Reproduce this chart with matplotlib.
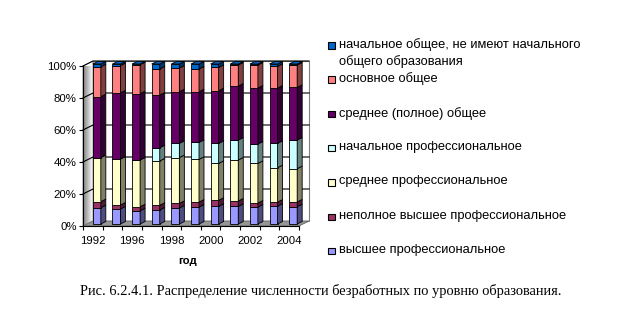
import matplotlib

matplotlib.use("Agg")
import matplotlib.colors as mcolors
import matplotlib.pyplot as plt
import numpy as np
from matplotlib.patches import Polygon, Rectangle

plt.rcParams["font.family"] = ["Liberation Sans", "DejaVu Sans"]

YEARS = ["1992", "1995", "1996", "1997", "1998", "1999", "2000", "2001", "2002", "2003", "2004"]
SHOWN_YEARS = ["1992", "1996", "1998", "2000", "2002", "2004"]

# shares of unemployed by education level, % (bottom of the stack first)
HIGHER_PROF = [10.2, 9.4, 8.3, 8.8, 10.0, 10.6, 11.0, 11.0, 10.6, 11.2, 10.8]
INCOMPLETE_HIGHER = [3.8, 2.5, 2.5, 2.9, 2.9, 3.1, 3.8, 3.4, 2.5, 2.5, 3.0]
SECONDARY_PROF = [27.5, 28.7, 29.2, 27.7, 28.6, 26.7, 23.1, 25.6, 24.8, 21.5, 20.8]
PRIMARY_PROF = [0.0, 0.0, 0.0, 8.3, 8.9, 10.6, 12.5, 12.5, 12.1, 15.2, 17.9]
SECONDARY_GENERAL = [38.1, 41.4, 41.5, 32.9, 32.3, 31.7, 32.9, 33.7, 35.0, 34.6, 32.9]
BASIC_GENERAL = [18.7, 17.0, 18.1, 16.3, 14.8, 14.2, 14.6, 13.2, 14.4, 13.5, 14.0]
PRIMARY_GENERAL = [1.7, 1.0, 0.4, 3.1, 2.5, 3.1, 2.1, 0.6, 0.6, 1.5, 0.6]

SERIES = [
    ("высшее профессиональное", HIGHER_PROF, "#9999FF"),
    ("неполное высшее профессиональное", INCOMPLETE_HIGHER, "#993366"),
    ("среднее профессиональное", SECONDARY_PROF, "#FFFFCC"),
    ("начальное профессиональное", PRIMARY_PROF, "#CCFFFF"),
    ("среднее (полное) общее", SECONDARY_GENERAL, "#660066"),
    ("основное общее", BASIC_GENERAL, "#FF8080"),
    ("начальное общее, не имеют начального\nобщего образования", PRIMARY_GENERAL, "#0066CC"),
]

W, H = 631, 331
fig = plt.figure(figsize=(W / 100, H / 100), dpi=100)
fig.patch.set_facecolor("white")

# front plane of the plot area, in pixels
left, right, bottom, top = 83, 299, 226, 66
ax = fig.add_axes([left / W, 1 - bottom / H, (right - left) / W, (bottom - top) / H])
n = len(YEARS)
ax.set_xlim(-0.5, n - 0.5)
ax.set_ylim(0, 100)
ax.set_facecolor("none")

ux = (right - left) / n      # pixels per category
uy = (bottom - top) / 100.0  # pixels per percent


def off(dx_px, dy_px):
    return dx_px / ux, dy_px / uy


# walls and floor
wdx, wdy = off(10, 5)
x0, x1 = -0.5, n - 0.5
ax.add_patch(Rectangle((x0 + wdx, wdy), x1 - x0, 100, facecolor="white",
                       edgecolor="#808080", lw=0.8, zorder=0, clip_on=False))
floor = Polygon([(x0, 0), (x1, 0), (x1 + wdx, wdy), (x0 + wdx, wdy)],
                facecolor="#969696", edgecolor="#606060", lw=0.6, zorder=1, clip_on=False)
ax.add_patch(floor)
side_wall = Polygon([(x0, 0), (x0 + wdx, wdy), (x0 + wdx, 100 + wdy), (x0, 100)],
                    facecolor="none", edgecolor="#808080", lw=0.6, zorder=1, clip_on=False)
ax.add_patch(side_wall)
grad = np.linspace(0.5, 1.0, 64).reshape(1, -1)
img = ax.imshow(grad, cmap="gray", vmin=0, vmax=1, extent=(x0, x0 + wdx, 0, 100 + wdy),
                aspect="auto", zorder=0.5, interpolation="bilinear")
img.set_clip_path(side_wall)

for g in range(20, 101, 20):
    ax.plot([x0, x0 + wdx, x1 + wdx], [g, g + wdy, g + wdy], color="black", lw=0.8,
            zorder=1.5, clip_on=False)

# bars: front face, right side and top
bw = 8 / ux
bsx, bsy = off(4, 2)
ddx, ddy = off(5, 2.5)
base = np.zeros(n)
for si, (label, vals, color) in enumerate(SERIES):
    dark = tuple(c * 0.5 for c in mcolors.to_rgb(color))
    for i, v in enumerate(vals):
        if v <= 0:
            continue
        xl = i - bw / 2 + bsx
        xr = xl + bw
        yb = base[i] + bsy
        yt = yb + v
        z = 3 + si
        ax.add_patch(Rectangle((xl, yb), bw, v, facecolor=color, edgecolor="black",
                               lw=0.6, zorder=z, clip_on=False))
        ax.add_patch(Polygon([(xr, yb), (xr + ddx, yb + ddy), (xr + ddx, yt + ddy), (xr, yt)],
                             facecolor=dark, edgecolor="black", lw=0.6, zorder=z, clip_on=False))
        if si == len(SERIES) - 1:
            ax.add_patch(Polygon([(xl, yt), (xr, yt), (xr + ddx, yt + ddy), (xl + ddx, yt + ddy)],
                                 facecolor=color, edgecolor="black", lw=0.6, zorder=z, clip_on=False))
    base += np.array(vals)

# axes
for s in ("top", "right"):
    ax.spines[s].set_visible(False)
for s in ("left", "bottom"):
    ax.spines[s].set_color("black")
    ax.spines[s].set_linewidth(0.8)
    ax.spines[s].set_zorder(20)
ax.set_yticks(range(0, 101, 20))
ax.set_yticklabels([f"{v}%" for v in range(0, 101, 20)], fontsize=8.2)
ax.tick_params(axis="y", length=3, width=0.8, pad=1.5)
ax.set_xticks([YEARS.index(y) for y in SHOWN_YEARS])
ax.set_xticklabels(SHOWN_YEARS, fontsize=8.2)
ax.set_xticks(np.arange(-0.5, n), minor=True)
ax.tick_params(axis="x", which="major", length=0, pad=7)
ax.tick_params(axis="x", which="minor", length=3, width=0.8)
ax.set_xlabel("год", fontsize=8.2, fontweight="bold")
ax.xaxis.set_label_coords((188 - left) / (right - left), -0.185)

# legend
for k, (label, vals, color) in enumerate(reversed(SERIES)):
    yc = 45 + k * 34.3
    fig.patches.append(Rectangle((328 / W, 1 - (yc + 3.5) / H), 6.5 / W, 6.5 / H,
                                 facecolor=color, edgecolor="black", lw=0.8,
                                 transform=fig.transFigure))
    fig.text(339 / W, 1 - (yc - 7) / H, label, fontsize=9.3, va="top", ha="left",
             linespacing=1.4)

fig.text(321 / W, 1 - 291 / H,
         "Рис. 6.2.4.1. Распределение численности безработных по уровню образования.",
         fontsize=10.4, ha="center", va="center", family=["Liberation Serif", "DejaVu Serif"])

fig.savefig("out.png", dpi=100)
